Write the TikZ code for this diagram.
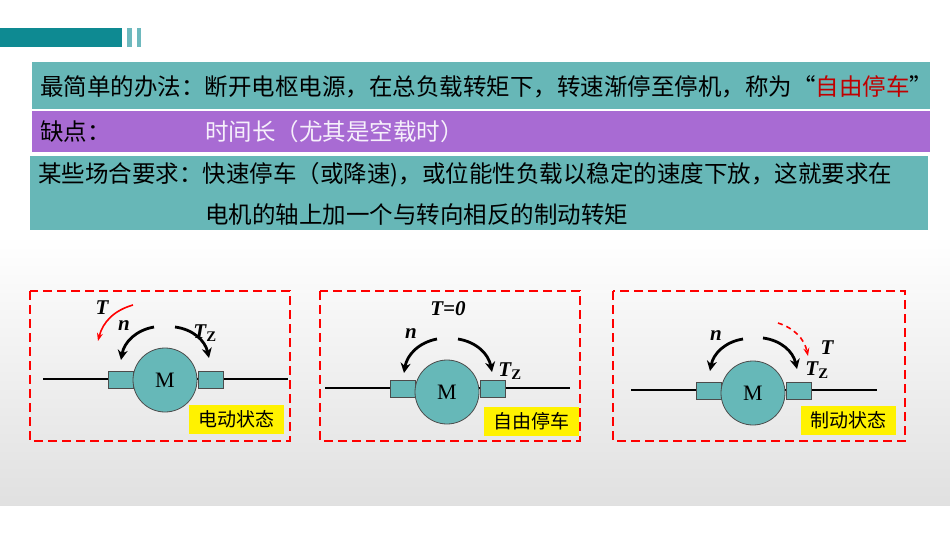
\documentclass[tikz,border=0pt]{standalone}
\usepackage{fontspec}
\setmainfont{Liberation Serif}
\newfontfamily\cjk{Noto Sans CJK SC}
\usetikzlibrary{arrows.meta}
\definecolor{tealbox}{HTML}{67B7B7}
\definecolor{purp}{HTML}{A86BD3}
\definecolor{bar}{HTML}{0E8A92}
\definecolor{motor}{HTML}{66B8B8}
\definecolor{darkred}{HTML}{C00000}
\begin{document}
\begin{tikzpicture}[x=1pt,y=-1pt,
 txt/.style={anchor=west,font=\cjk\fontsize{23.5}{26}\selectfont,inner sep=0},
 panel/.style={draw=red,line width=2pt,dash pattern=on 9pt off 5pt},
 motorc/.style={circle,draw=black!70,line width=0.8pt,fill=motor,minimum size=64pt,inner sep=0,font=\fontsize{22}{24}\selectfont},
 blk/.style={draw=black!70,line width=0.8pt,fill=motor,minimum width=25pt,minimum height=17pt,inner sep=0},
 tag/.style={fill=yellow,font=\cjk\fontsize{19}{21}\selectfont,minimum width=95pt,minimum height=29pt,inner sep=0},
 rot/.style={line width=2.8pt,-{Stealth[length=10pt,width=10pt]}},
 sym/.style={font=\bfseries\itshape\fontsize{21}{22}\selectfont,inner sep=0}]
\useasboundingbox (0,0) rectangle (950,535);
\fill[white] (0,0) rectangle (950,535);
\shade[top color=white,bottom color=black!12] (0,235) rectangle (950,505);
\fill[bar] (0,28) rectangle (122,47);
\fill[bar!60] (127,28) rectangle (132,47);
\fill[bar!60] (137,28) rectangle (141,47);
% bands
\fill[tealbox] (32,62) rectangle (930,109);
\fill[purp] (32,111) rectangle (930,152);
\fill[tealbox] (30,156) rectangle (928,230);
\node[txt] (l1) at (40,87) {最简单的办法：断开电枢电源，在总负载转矩下，转速渐停至停机，称为“\textcolor{darkred}{自由停车}”};
\node[txt] (l2a) at (40,132) {缺点：};
\node[txt,text=white!90!purp] (l2b) at (205,132) {时间长（尤其是空载时）};
\node[txt] (l3a) at (38,175) {某些场合要求：快速停车（或降速)，或位能性负载以稳定的速度下放，这就要求在};
\node[txt] (l3b) at (205,215) {电机的轴上加一个与转向相反的制动转矩};
% panel 1
\draw[panel] (30,291) rectangle (290,441);
\coordinate (s1a) at (43,379); \coordinate (s1b) at (288,379);
\draw[line width=2pt] (s1a) -- (s1b);
\node[blk] (b1l) at (121,380) {};
\node[blk] (b1r) at (211,380) {};
\node[motorc] (m1) at (165,380) {M};
\node[tag] (t1) at (236,419) {电动状态};
\coordinate (n1s) at (154,327); \coordinate (n1e) at (121,360);
\coordinate (z1s) at (175,327); \coordinate (z1e) at (209,358);
\draw[rot] (n1s) to[bend right=35] (n1e);
\draw[rot] (z1s) to[bend left=35] (z1e);
\coordinate (r1s) at (133,305); \coordinate (r1e) at (98,341);
\draw[red,line width=1.6pt,-{Stealth[length=8pt]}] (r1s) to[bend right=30] (r1e);
\node[sym] (T1) at (102,308) {T};
\node[sym] (n1) at (124,326) {n};
\node[sym] (Z1) at (205,333) {T$_{\mathbf Z}$};
% panel 2
\draw[panel] (320,291) rectangle (580,441);
\coordinate (s2a) at (325,388); \coordinate (s2b) at (570,388);
\draw[line width=2pt] (s2a) -- (s2b);
\node[blk] (b2l) at (403,389) {};
\node[blk] (b2r) at (493,389) {};
\node[motorc] (m2) at (447,392) {M};
\node[tag] (t2) at (531,421) {自由停车};
\coordinate (n2s) at (437,339); \coordinate (n2e) at (404,373);
\coordinate (z2s) at (458,339); \coordinate (z2e) at (492,372);
\draw[rot] (n2s) to[bend right=35] (n2e);
\draw[rot] (z2s) to[bend left=35] (z2e);
\node[sym] (T2) at (448,309) {T=0};
\node[sym] (n2) at (411,334) {n};
\node[sym] (Z2) at (510,371) {T$_{\mathbf Z}$};
% panel 3
\draw[panel] (613,291) rectangle (905,441);
\coordinate (s3a) at (631,390); \coordinate (s3b) at (877,390);
\draw[line width=2pt] (s3a) -- (s3b);
\node[blk] (b3l) at (709,391) {};
\node[blk] (b3r) at (799,391) {};
\node[motorc] (m3) at (753,393) {M};
\node[tag] (t3) at (848,420) {制动状态};
\coordinate (n3s) at (743,339); \coordinate (n3e) at (710,371);
\coordinate (z3s) at (763,338); \coordinate (z3e) at (797,369);
\draw[rot] (n3s) to[bend right=35] (n3e);
\draw[rot] (z3s) to[bend left=35] (z3e);
\coordinate (r3s) at (778,323); \coordinate (r3e) at (808,356);
\draw[red,line width=1.6pt,dash pattern=on 5pt off 4pt,-{Stealth[length=8pt]}] (r3s) to[bend left=30] (r3e);
\node[sym] (n3) at (716,336) {n};
\node[sym] (T3) at (827,348) {T};
\node[sym] (Z3) at (817,370) {T$_{\mathbf Z}$};
\end{tikzpicture}
\end{document}
